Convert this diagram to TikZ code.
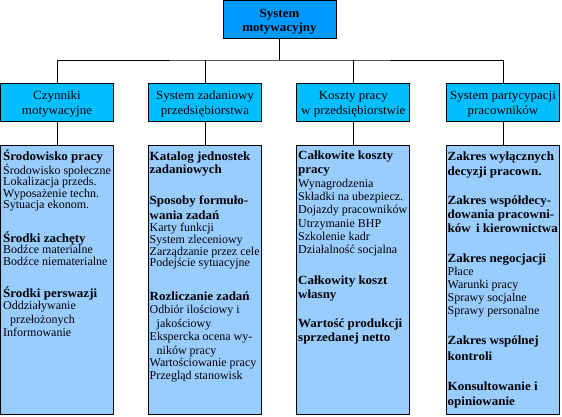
\documentclass[tikz,border=0pt]{standalone}
\usepackage{fontspec}
\setmainfont{Liberation Serif}
\newfontfamily\rowfont{Liberation Serif}[FakeStretch=1.04]
\newfontfamily\regfont{Liberation Serif}
\newfontfamily\hdfont{Liberation Serif}[FakeStretch=1.04]
\definecolor{topblue}{HTML}{0099FF}
\definecolor{midblue}{HTML}{00BFFF}
\definecolor{lowblue}{HTML}{99CCFF}
\begin{document}
\begin{tikzpicture}[x=1pt,y=-1pt,
 box/.style={draw=black, line width=0.8pt, minimum width=113pt, inner sep=0pt, outer sep=0pt, anchor=north west},
 topbox/.style={box, fill=topblue, minimum height=38pt},
 midbox/.style={box, fill=midblue, minimum height=38pt},
 lowbox/.style={box, fill=lowblue, minimum height=269pt},
 toplab/.style={font=\hdfont\bfseries\fontsize{12.5}{14}\selectfont, anchor=base, inner sep=0pt},
 midlab/.style={font=\rowfont\fontsize{12.5}{14}\selectfont, anchor=base, inner sep=0pt},
 hd/.style={font=\hdfont\bfseries\fontsize{12.5}{14}\selectfont, anchor=base west, inner sep=0pt},
 rg/.style={font=\regfont\fontsize{12}{12}\selectfont, anchor=base west, inner sep=0pt},
 conn/.style={draw=black, line width=0.8pt}]
\useasboundingbox (0,0) rectangle (562,416);
% boxes
\node[topbox] (top) at (223,0.5) {};
\node[midbox] (m1) at (0.5,83) {};
\node[midbox] (m2) at (148.5,83) {};
\node[midbox] (m3) at (296.8,83) {};
\node[midbox] (m4) at (446.5,83) {};
\node[lowbox] (l1) at (0.5,145) {};
\node[lowbox] (l2) at (148.5,145) {};
\node[lowbox] (l3) at (296.8,145) {};
\node[lowbox] (l4) at (446.5,145) {};
% connectors
\coordinate (bus) at (top.south |- 0,60);
\draw[conn] (top.south) -- (bus);
\draw[conn] (m1.north) |- (bus) -| (m4.north);
\draw[conn] (m2.north) -- (m2.north |- bus);
\draw[conn] (m3.north) -- (m3.north |- bus);
\foreach \i in {1,2,3,4} \draw[conn] (m\i.south) -- (l\i.north);
% top label
\node[toplab] (t1) at (279.5,17) {System};
\node[toplab] (t2) at (279.5,31.5) {motywacyjny};
% row 2 labels
\node[midlab] (p1) at ([yshift=-16pt]m1.north) {Czynniki};
\node[midlab] (q1) at ([yshift=-31pt]m1.north) {motywacyjne};
\node[midlab] (p2) at ([yshift=-16pt]m2.north) {System zadaniowy};
\node[midlab] (q2) at ([yshift=-31pt]m2.north) {przedsiębiorstwa};
\node[midlab] (p3) at ([yshift=-16pt]m3.north) {Koszty pracy};
\node[midlab] (q3) at ([yshift=-31pt]m3.north) {w przedsiębiorstwie};
\node[midlab] (p4) at ([yshift=-16pt]m4.north) {System partycypacji};
\node[midlab] (q4) at ([yshift=-31pt]m4.north) {pracowników};
% column 1
\foreach \x/\y/\s/\t [count=\i] in {
 3/160.5/hd/{Środowisko pracy},
 3/174/rg/{Środowisko społeczne},
 3/185.5/rg/{Lokalizacja przeds.},
 3/197/rg/{Wyposażenie techn.},
 3/208.5/rg/{Sytuacja ekonom.},
 3/242/hd/{Środki zachęty},
 3/253.5/rg/{Bodźce materialne},
 3/265/rg/{Bodźce niematerialne},
 3/297.5/hd/{Środki perswazji},
 3/309.5/rg/{Oddziaływanie},
 10/323/rg/{przełożonych},
 3/336/rg/{Informowanie}}
 \node[\s] (a\i) at (\x,\y) {\t};
% column 2
\foreach \x/\y/\s/\t [count=\i] in {
 149.5/160/hd/{Katalog jednostek},
 149.5/173.5/hd/{zadaniowych},
 149.5/204.5/hd/{Sposoby formuło-},
 149.5/219/hd/{wania zadań},
 149.5/231.5/rg/{Karty funkcji},
 149.5/243.5/rg/{System zleceniowy},
 149.5/255/rg/{Zarządzanie przez cele},
 149.5/266.5/rg/{Podejście sytuacyjne},
 149.5/300.5/hd/{Rozliczanie zadań},
 149.5/313.5/rg/{Odbiór ilościowy i},
 156.5/327.5/rg/{jakościowy},
 149.5/340/rg/{Ekspercka ocena wy-},
 156.5/354/rg/{ników pracy},
 149.5/366.5/rg/{Wartościowanie pracy},
 149.5/379/rg/{Przegląd stanowisk}}
 \node[\s] (b\i) at (\x,\y) {\t};
% column 3
\foreach \x/\y/\s/\t [count=\i] in {
 298/159.5/hd/{Całkowite koszty},
 298/173.5/hd/{pracy},
 298/187/rg/{Wynagrodzenia},
 298/200/rg/{Składki na ubezpiecz.},
 298/213.5/rg/{Dojazdy pracowników},
 298/227/rg/{Utrzymanie BHP},
 298/240/rg/{Szkolenie kadr},
 298/253/rg/{Działalność socjalna},
 298/284/hd/{Całkowity koszt},
 298/298.5/hd/{własny},
 298/327/hd/{Wartość produkcji},
 298/341.5/hd/{sprzedanej netto}}
 \node[\s] (c\i) at (\x,\y) {\t};
% column 4
\foreach \x/\y/\s/\t [count=\i] in {
 447.5/160.5/hd/{Zakres wyłącznych},
 447.5/175.5/hd/{decyzji pracown.},
 447.5/204.5/hd/{Zakres współdecy-},
 447.5/218.5/hd/{dowania pracowni-},
 447.5/232/hd/{ków\hspace{2pt} i kierownictwa},
 447.5/262.5/hd/{Zakres negocjacji},
 447.5/275.5/rg/{Płace},
 447.5/288.5/rg/{Warunki pracy},
 447.5/301.5/rg/{Sprawy socjalne},
 447.5/314.5/rg/{Sprawy personalne},
 447.5/344.5/hd/{Zakres wspólnej},
 447.5/360/hd/{kontroli},
 447.5/390/hd/{Konsultowanie i},
 447.5/405/hd/{opiniowanie}}
 \node[\s] (d\i) at (\x,\y) {\t};
\end{tikzpicture}
\end{document}
